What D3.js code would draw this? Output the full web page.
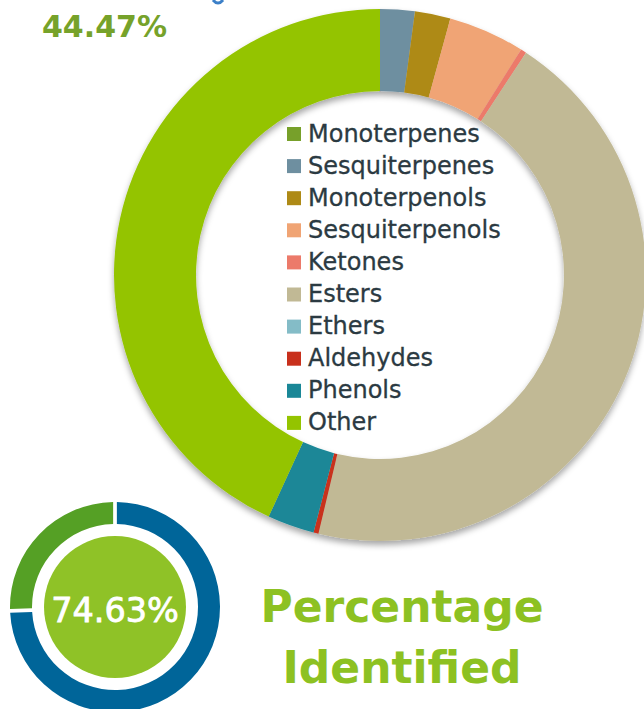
<!DOCTYPE html>
<html>
<head>
<meta charset="utf-8">
<script src="https://cdn.jsdelivr.net/npm/d3@7"></script>
<style>
  html, body { margin: 0; padding: 0; background: #ffffff; }
  svg { display: block; }
</style>
</head>
<body>
<svg id="chart" width="644" height="709"></svg>
<script>
// ---- Data ----
const categories = ["Monoterpenes", "Sesquiterpenes", "Monoterpenols", "Sesquiterpenols",
  "Ketones", "Esters", "Ethers", "Aldehydes", "Phenols", "Other"];
const values = [0, 2.1, 2.16, 4.64, 0.35, 44.47, 0, 0.3, 2.85, 43.13];
const colors = ["#77a02a", "#6e8fa0", "#ae8a16", "#f0a474", "#ec7a6a",
  "#c1b995", "#84bcc7", "#c8301c", "#1a8797", "#94c400"];

const highlightLabel = "44.47%";

const identifiedCategories = ["Identified", "Unidentified"];
const identifiedValues = [74.63, 25.37];
const identifiedColors = ["#006599", "#55a025"];
const identifiedLabel = "74.63%";
const titleLines = ["Percentage", "Identified"];

// ---- Setup ----
const svg = d3.select("#chart");
const defs = svg.append("defs");
const f = defs.append("filter").attr("id", "shadow")
  .attr("x", "-10%").attr("y", "-10%").attr("width", "120%").attr("height", "125%");
f.append("feDropShadow").attr("dx", 0).attr("dy", 4).attr("stdDeviation", 3)
  .attr("flood-color", "#000").attr("flood-opacity", 0.35);

// ---- Big donut ----
const cx = 380, cy = 275, R = 266, r = 184;
const pie = d3.pie().sort(null).value(d => d.v);
const data = categories.map((c, i) => ({ c, v: values[i], col: colors[i] }));
const arc = d3.arc().innerRadius(r).outerRadius(R);

const g = svg.append("g").attr("transform", `translate(${cx},${cy})`)
  .attr("filter", "url(#shadow)");
g.selectAll("path").data(pie(data)).join("path")
  .attr("d", arc)
  .attr("fill", d => d.data.col);

// ---- Legend ----
const legendX = 287, legendY0 = 141.5, rowH = 32.1;
const lg = svg.append("g");
const rows = lg.selectAll("g").data(data).join("g")
  .attr("transform", (d, i) => `translate(${legendX},${legendY0 + i * rowH})`);
rows.append("rect").attr("x", 0).attr("y", -14.5).attr("width", 14).attr("height", 14)
  .attr("fill", d => d.col);
rows.append("text").attr("x", 21).attr("y", 0)
  .attr("font-family", "'DejaVu Sans', sans-serif")
  .attr("font-size", 24)
  .attr("fill", "#2b3a42")
  .attr("stroke", "#2b3a42").attr("stroke-width", 0.3)
  .text(d => d.c);

// ---- Highlight label ----
svg.append("text").attr("x", 42).attr("y", 37)
  .attr("font-family", "'DejaVu Sans', sans-serif")
  .attr("font-weight", "bold")
  .attr("font-size", 30)
  .attr("fill", "#76a22a")
  .text(highlightLabel);

// small cut-off blue mark at top
svg.append("path")
  .attr("d", "M213,0 Q218,6 223,0")
  .attr("fill", "none").attr("stroke", "#3c80c8").attr("stroke-width", 3);

// ---- Small donut ----
const scx = 115, scy = 607, sR = 105, sr = 83, sIn = 71;
const sPie = d3.pie().sort(null).value(d => d.v).padAngle(0.028);
const sData = identifiedCategories.map((c, i) => ({ c, v: identifiedValues[i], col: identifiedColors[i] }));
const sArc = d3.arc().innerRadius(sr).outerRadius(sR);
const sg = svg.append("g").attr("transform", `translate(${scx},${scy})`);
sg.selectAll("path").data(sPie(sData)).join("path")
  .attr("d", sArc).attr("fill", d => d.data.col);
sg.append("circle").attr("r", sIn).attr("fill", "#8fc227");
sg.append("text").attr("x", 0).attr("y", 15)
  .attr("text-anchor", "middle")
  .attr("font-family", "'DejaVu Sans', sans-serif")
  .attr("font-size", 33.5)
  .attr("fill", "#ffffff")
  .attr("stroke", "#ffffff").attr("stroke-width", 0.8)
  .text(identifiedLabel);

// ---- Title ----
svg.append("g").selectAll("text").data(titleLines).join("text")
  .attr("x", 402).attr("y", (d, i) => 622 + i * 61)
  .attr("text-anchor", "middle")
  .attr("font-family", "'DejaVu Sans', sans-serif")
  .attr("font-weight", "bold")
  .attr("font-size", 44)
  .attr("fill", "#8dc122")
  .text(d => d);
</script>
</body>
</html>
